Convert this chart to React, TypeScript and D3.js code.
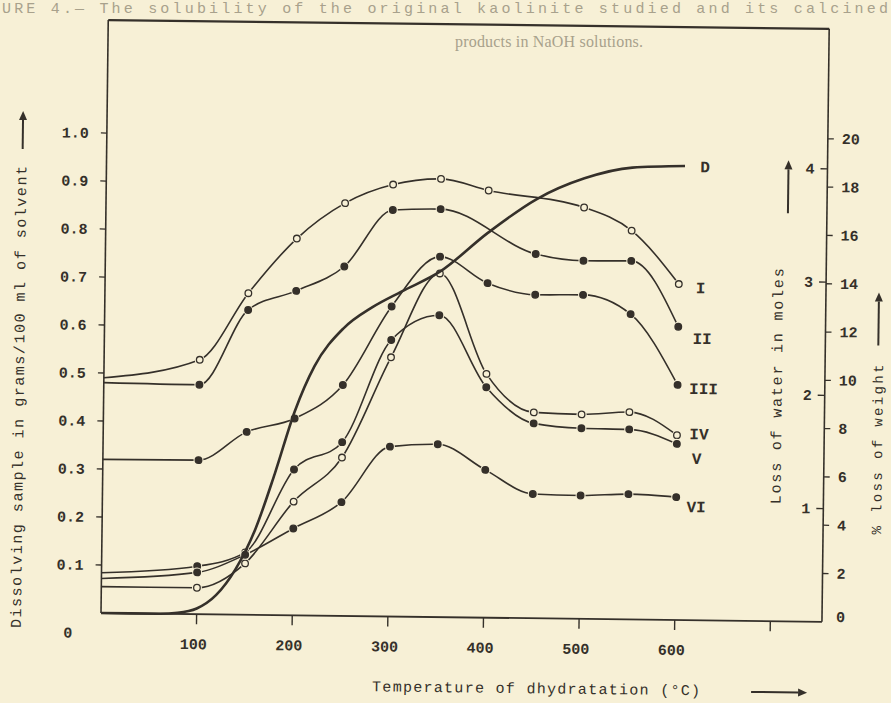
import * as d3 from 'd3'

// temperatures of dehydration (°C) at which the solubility samples were taken
const temps = [0, 100, 150, 200, 250, 300, 350, 400, 450, 500, 550, 600]

// dissolved sample, g / 100 ml solvent (null = no point at that temperature)
const seriesNames = ['I', 'II', 'III', 'IV', 'V', 'VI']
const valuesI = [0.49, 0.53, 0.67, 0.785, 0.86, 0.9, 0.913, 0.89, null, 0.857, 0.81, 0.7]
const valuesII = [0.48, 0.478, 0.635, 0.676, 0.728, 0.847, 0.85, null, 0.759, 0.746, 0.747, 0.611]
const valuesIII = [0.32, 0.321, 0.381, 0.41, 0.481, 0.646, 0.751, 0.697, 0.674, 0.675, 0.636, 0.49]
const valuesIV = [0.055, 0.055, 0.107, 0.237, 0.33, 0.54, 0.716, 0.508, 0.429, 0.426, 0.432, 0.385]
const valuesV = [0.084, 0.1, 0.13, 0.304, 0.362, 0.576, 0.629, 0.48, 0.406, 0.397, 0.396, 0.367]
const valuesVI = [0.072, 0.087, 0.125, 0.181, 0.237, 0.354, 0.36, 0.308, 0.259, 0.257, 0.261, 0.256]
const hollowMarkers = [true, false, false, true, false, false]

// curve D: loss of water in moles
const dTemps = [0, 60, 80, 100, 120, 140, 160, 180, 200, 220, 250, 280, 310, 350, 400, 450, 500, 550, 605]
const dMoles = [0, 0, 0.01, 0.05, 0.17, 0.4, 0.75, 1.25, 1.8, 2.2, 2.54, 2.73, 2.87, 3.05, 3.4, 3.7, 3.89, 3.99, 4.01]

const xTicks = [100, 200, 300, 400, 500, 600, 700]
const xTickLabels = ['100', '200', '300', '400', '500', '600', '']
const yTicks = [0.1, 0.2, 0.3, 0.4, 0.5, 0.6, 0.7, 0.8, 0.9, 1.0]
const yTickLabels = ['0.1', '0.2', '0.3', '0.4', '0.5', '0.6', '0.7', '0.8', '0.9', '1.0']
const moleTicks = [1, 2, 3, 4]
const pctTicks = [0, 2, 4, 6, 8, 10, 12, 14, 16, 18, 20]

const BG = '#f7f0d6'
const INK = '#35302a'
const FAINT = '#a8a18c'
const MONO = '"Liberation Mono", "DejaVu Sans Mono", monospace'
const SERIF = '"Liberation Serif", "DejaVu Serif", serif'

const allValues = [valuesI, valuesII, valuesIII, valuesIV, valuesV, valuesVI]

function Arrow({ x1, y1, x2, y2 }: { x1: number; y1: number; x2: number; y2: number }) {
  const a = Math.atan2(y2 - y1, x2 - x1)
  const len = 9
  const w = 4
  const bx = x2 - len * Math.cos(a)
  const by = y2 - len * Math.sin(a)
  const px = -Math.sin(a) * w
  const py = Math.cos(a) * w
  return (
    <g>
      <line x1={x1} y1={y1} x2={bx} y2={by} stroke={INK} strokeWidth={2} />
      <path d={`M${x2},${y2}L${bx + px},${by + py}L${bx - px},${by - py}Z`} fill={INK} />
    </g>
  )
}

export default function App() {
  const W = 891
  const H = 703
  const x = d3.scaleLinear().domain([0, 754]).range([101, 822])
  const y = d3.scaleLinear().domain([0, 1]).range([613, 133])
  const yMol = d3.scaleLinear().domain([0, 4]).range([613, 160])
  const yPct = d3.scaleLinear().domain([0, 20]).range([613, 130])
  const top = 20

  const line = d3
    .line<[number, number]>()
    .x((d) => x(d[0]))
    .y((d) => y(d[1]))
    .curve(d3.curveMonotoneX)

  const dLine = d3
    .line<[number, number]>()
    .x((d) => x(d[0]))
    .y((d) => yMol(d[1]))
    .curve(d3.curveMonotoneX)

  const series = allValues.map((vals, i) => ({
    name: seriesNames[i],
    hollow: hollowMarkers[i],
    pts: temps
      .map((t, j) => [t, vals[j]] as [number, number | null])
      .filter((p) => p[1] != null) as [number, number][],
  }))
  const dPts = dTemps.map((t, i) => [t, dMoles[i]] as [number, number])

  const labelOffsets: Record<string, [number, number]> = {
    I: [22, 4],
    II: [24, 12],
    III: [26, 4],
    IV: [22, -1],
    V: [20, 15],
    VI: [20, 10],
  }

  return (
    <svg width={W} height={H} style={{ position: 'absolute', left: 0, top: 0 }} fontFamily={MONO}>
      <rect width={W} height={H} fill={BG} />

      {/* caption showing faintly through the scan */}
      <text x={2} y={13} fontSize={15} fill={FAINT} textLength={886} lengthAdjust="spacing">
        URE 4.— The solubility of the original kaolinite studied and its calcined
      </text>
      <text x={455} y={47} fontSize={16} fontFamily={SERIF} fill={FAINT} textLength={188} lengthAdjust="spacing">
        products in NaOH solutions.
      </text>

      <g transform="rotate(0.7, 101, 613)">
        {/* frame */}
        <line x1={x(0)} y1={top} x2={x(754)} y2={top} stroke={INK} strokeWidth={2.2} />
        <line x1={x(0)} y1={top} x2={x(0)} y2={y(0)} stroke={INK} strokeWidth={1.6} />
        <line x1={x(754)} y1={top} x2={x(754)} y2={y(0)} stroke={INK} strokeWidth={1.6} />
        <line x1={x(0)} y1={y(0)} x2={x(754)} y2={y(0)} stroke={INK} strokeWidth={1.8} />

        {/* bottom axis */}
        {xTicks.map((t, i) => (
          <g key={'xt' + t}>
            <line x1={x(t)} y1={y(0)} x2={x(t)} y2={y(0) + 10} stroke={INK} strokeWidth={1.4} />
            <text x={x(t) - 3} y={y(0) + 35} fontSize={15} fontWeight="bold" fill={INK} textAnchor="middle">
              {xTickLabels[i]}
            </text>
          </g>
        ))}
        <text x={68} y={y(0) + 25} fontSize={15} fontWeight="bold" fill={INK} textAnchor="middle">
          0
        </text>

        {/* left axis */}
        {yTicks.map((v, i) => (
          <g key={'yt' + v}>
            <line x1={x(0) - 6} y1={y(v)} x2={x(0)} y2={y(v)} stroke={INK} strokeWidth={1.3} />
            <text x={x(0) - 18} y={y(v) + 5} fontSize={15} fontWeight="bold" fill={INK} textAnchor="end">
              {yTickLabels[i]}
            </text>
          </g>
        ))}

        {/* right axes: moles inside, % loss of weight outside */}
        {moleTicks.map((m) => (
          <g key={'mt' + m}>
            <line x1={x(754) - 7} y1={yMol(m)} x2={x(754)} y2={yMol(m)} stroke={INK} strokeWidth={1.3} />
            <text x={x(754) - 13} y={yMol(m) + 5} fontSize={15} fontWeight="bold" fill={INK} textAnchor="end">
              {m}
            </text>
          </g>
        ))}
        {pctTicks.map((p) => (
          <g key={'pt' + p}>
            {p > 0 && <line x1={x(754)} y1={yPct(p)} x2={x(754) + 6} y2={yPct(p)} stroke={INK} strokeWidth={1.3} />}
            <text x={x(754) + 14} y={yPct(p) + (p === 0 ? 0 : 5)} fontSize={15} fontWeight="bold" fill={INK}>
              {p}
            </text>
          </g>
        ))}

        {/* solubility curves */}
        {series.map((s) => (
          <path key={'l' + s.name} d={line(s.pts) ?? ''} fill="none" stroke={INK} strokeWidth={1.6} />
        ))}
        {series.map((s) =>
          s.pts
            .filter((p) => p[0] > 0)
            .map((p) => (
              <g key={s.name + p[0]}>
                <circle cx={x(p[0])} cy={y(p[1])} r={5} fill={BG} />
                <circle
                  cx={x(p[0])}
                  cy={y(p[1])}
                  r={3.3}
                  fill={s.hollow ? BG : INK}
                  stroke={INK}
                  strokeWidth={1.3}
                />
              </g>
            ))
        )}

        {/* curve D */}
        <path d={dLine(dPts) ?? ''} fill="none" stroke={INK} strokeWidth={2.6} />

        {/* curve labels */}
        {series.map((s) => {
          const last = s.pts[s.pts.length - 1]
          const [dx, dy] = labelOffsets[s.name]
          return (
            <text
              key={'lab' + s.name}
              x={x(last[0]) + dx}
              y={y(last[1]) + dy + 5}
              fontSize={16}
              fontWeight="bold"
              fill={INK}
              textAnchor="middle"
            >
              {s.name}
            </text>
          )
        })}
        <text
          x={x(dPts[dPts.length - 1][0]) + 20}
          y={yMol(dPts[dPts.length - 1][1]) + 6}
          fontSize={16}
          fontWeight="bold"
          fill={INK}
          textAnchor="middle"
        >
          D
        </text>

        {/* axis titles */}
        <text
          transform="translate(21,398) rotate(-90)"
          fontSize={15}
          fill={INK}
          textAnchor="middle"
          textLength={462}
          lengthAdjust="spacing"
        >
          Dissolving sample in grams/100 ml of solvent
        </text>
        <Arrow x1={17} y1={150} x2={17} y2={112} />

        <text
          transform="translate(779,378) rotate(-90)"
          fontSize={15}
          fill={INK}
          textAnchor="middle"
          textLength={236}
          lengthAdjust="spacing"
        >
          Loss of water in moles
        </text>
        <Arrow x1={783} y1={205} x2={783} y2={152} />

        <text
          transform="translate(880,440) rotate(-90)"
          fontSize={14}
          fill={INK}
          textAnchor="middle"
          textLength={170}
          lengthAdjust="spacing"
        >
          % loss of weight
        </text>
        <Arrow x1={875} y1={336} x2={875} y2={283} />

        <text x={373} y={688} fontSize={15} fill={INK} textLength={328} lengthAdjust="spacing">
          Temperature of dhydratation ({'\u00b0'}C)
        </text>
        <Arrow x1={752} y1={684} x2={808} y2={684} />
      </g>
    </svg>
  )
}
